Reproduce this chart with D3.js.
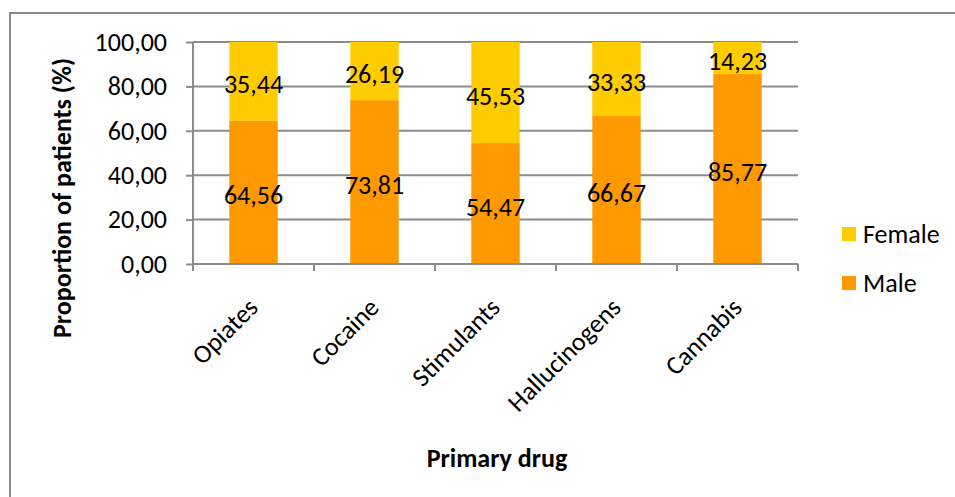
<!DOCTYPE html>
<html>
<head>
<meta charset="utf-8">
<script src="https://cdn.jsdelivr.net/npm/d3@7"></script>
<style>
  html, body { margin: 0; padding: 0; background: #fff; }
  svg { display: block; font-family: Carlito, Lato, "Open Sans", sans-serif; }
</style>
</head>
<body>
<svg id="chart" width="955" height="497"></svg>
<script>
// Share of patients by sex for each primary drug (percent)
const categories = ["Opiates", "Cocaine", "Stimulants", "Hallucinogens", "Cannabis"];
const maleValues = [64.56, 73.81, 54.47, 66.67, 85.77];
const femaleValues = [35.44, 26.19, 45.53, 33.33, 14.23];
const yTicks = [0, 20, 40, 60, 80, 100];
const seriesNames = ["Female", "Male"];
const seriesColors = { Male: "#FF9900", Female: "#FFCC00" };

const svg = d3.select("#chart");
const plot = { left: 193, right: 798, top: 42, bottom: 264 };
const gridColor = "#8c8c8c";
const fontSize = 26;
const fmt = v => v.toFixed(2).replace(".", ",");

svg.append("rect").attr("width", 955).attr("height", 497).attr("fill", "#fff");

// Outer chart frame
svg.append("rect")
  .attr("x", 10).attr("y", 13).attr("width", 980).attr("height", 520)
  .attr("fill", "none").attr("stroke", "#8a8a8a").attr("stroke-width", 2);

const x = d3.scaleBand().domain(categories).range([plot.left, plot.right]).padding(0);
const y = d3.scaleLinear().domain([0, 100]).range([plot.bottom, plot.top]);

// Horizontal gridlines
svg.append("g").selectAll("line").data(yTicks.slice(1)).join("line")
  .attr("x1", plot.left).attr("x2", plot.right)
  .attr("y1", d => y(d)).attr("y2", d => y(d))
  .attr("stroke", gridColor).attr("stroke-width", 2);

// Y axis
const yAxis = svg.append("g").attr("transform", `translate(${plot.left},0)`)
  .call(d3.axisLeft(y).tickValues(yTicks).tickFormat(fmt).tickSize(7).tickPadding(19));
yAxis.select(".domain").attr("stroke", gridColor).attr("stroke-width", 2)
  .attr("d", `M0,${plot.top}V${plot.bottom}`);
yAxis.selectAll(".tick line").attr("stroke", gridColor).attr("stroke-width", 2);
yAxis.selectAll(".tick text").attr("font-size", fontSize).attr("fill", "#000")
  .attr("font-family", "Carlito, Lato, 'Open Sans', sans-serif");

// Stacked bars
const barFrac = 0.4;
const bw = x.bandwidth() * barFrac;
const bx = d => x(d) + (x.bandwidth() - bw) / 2;

const rows = categories.map((c, i) => ({ cat: c, Male: maleValues[i], Female: femaleValues[i] }));
const stack = d3.stack().keys(["Male", "Female"])(rows);

svg.append("g").selectAll("g").data(stack).join("g")
  .attr("fill", s => seriesColors[s.key])
  .selectAll("rect").data(s => s).join("rect")
  .attr("x", d => bx(d.data.cat))
  .attr("width", bw)
  .attr("y", d => y(d[1]))
  .attr("height", d => y(d[0]) - y(d[1]));

// X axis line with ticks at category boundaries
const xAxisG = svg.append("g");
xAxisG.append("line")
  .attr("x1", plot.left).attr("x2", plot.right)
  .attr("y1", plot.bottom).attr("y2", plot.bottom)
  .attr("stroke", gridColor).attr("stroke-width", 2);
const boundaries = categories.map(c => x(c)).concat([plot.right]);
xAxisG.selectAll("line.tick").data(boundaries).join("line")
  .attr("class", "tick")
  .attr("x1", d => d).attr("x2", d => d)
  .attr("y1", plot.bottom).attr("y2", plot.bottom + 7)
  .attr("stroke", gridColor).attr("stroke-width", 2);

// Rotated category labels
xAxisG.selectAll("text").data(categories).join("text")
  .attr("transform", d => `translate(${x(d) + x.bandwidth() / 2 + 6},${plot.bottom + 45}) rotate(-45)`)
  .attr("text-anchor", "end")
  .attr("font-size", fontSize)
  .text(d => d);

// Value labels centred in each segment
svg.append("g").selectAll("g").data(stack).join("g")
  .selectAll("text").data(s => s).join("text")
  .attr("x", d => x(d.data.cat) + x.bandwidth() / 2)
  .attr("y", d => (y(d[0]) + y(d[1])) / 2 + 3)
  .attr("text-anchor", "middle")
  .attr("dominant-baseline", "central")
  .attr("font-size", fontSize)
  .text(d => fmt(d[1] - d[0]));

// Axis titles
svg.append("text")
  .attr("transform", "translate(71,198) rotate(-90)")
  .attr("text-anchor", "middle")
  .attr("font-size", fontSize).attr("font-weight", "bold")
  .text("Proportion of patients (%)");

svg.append("text")
  .attr("x", 497).attr("y", 467)
  .attr("text-anchor", "middle")
  .attr("font-size", fontSize).attr("font-weight", "bold")
  .text("Primary drug");

// Legend
const legend = svg.append("g");
const legendItems = legend.selectAll("g").data(seriesNames).join("g")
  .attr("transform", (d, i) => `translate(842,${227 + i * 49})`);
legendItems.append("rect")
  .attr("width", 14).attr("height", 14)
  .attr("fill", d => seriesColors[d]);
legendItems.append("text")
  .attr("x", 21).attr("y", 16)
  .attr("font-size", fontSize)
  .text(d => d);
</script>
</body>
</html>
